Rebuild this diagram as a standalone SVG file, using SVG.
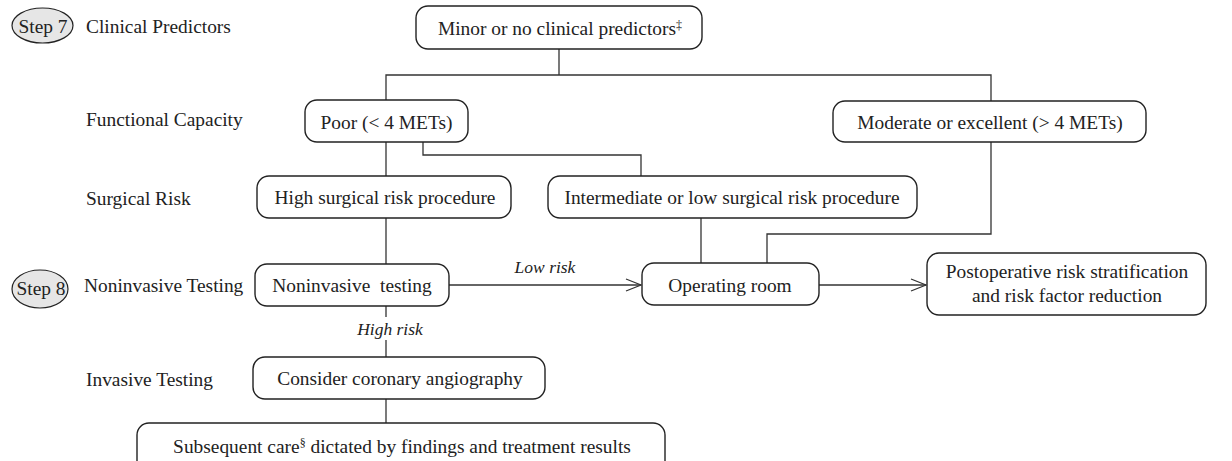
<svg xmlns="http://www.w3.org/2000/svg" width="1232" height="461" viewBox="0 0 1232 461">
<style>
  .box{fill:#fff;stroke:#222;stroke-width:1.4}
  .t{font-family:"Liberation Serif","Times New Roman",serif;font-size:19.4px;fill:#222}
  .c{text-anchor:middle}
  .i{font-style:italic;font-size:17.5px}
  .ln{fill:none;stroke:#333;stroke-width:1.3}
  .step{fill:#e6e6e6;stroke:#222;stroke-width:1.2}
  .sup{font-size:12px}
</style>
<defs>
  <marker id="arr" viewBox="0 0 17 14" refX="16" refY="7" markerWidth="17" markerHeight="14" markerUnits="userSpaceOnUse" orient="auto">
    <path d="M1,1 L16,7 L1,13" fill="none" stroke="#333" stroke-width="1.3"/>
  </marker>
</defs>
<rect width="1232" height="461" fill="#fff"/>

<g id="labels">
  <g id="step7"><ellipse class="step" cx="42.5" cy="25.5" rx="30.5" ry="17.5"/><text class="t c" x="43" y="33">Step 7</text></g>
  <g id="step8"><ellipse class="step" cx="40" cy="289" rx="28" ry="19"/><text class="t c" x="41" y="295">Step 8</text></g>
  <text class="t" x="86" y="33">Clinical Predictors</text>
  <text class="t" x="86" y="126">Functional Capacity</text>
  <text class="t" x="86" y="205">Surgical Risk</text>
  <text class="t" x="84" y="292">Noninvasive Testing</text>
  <text class="t" x="86" y="386">Invasive Testing</text>
</g>

<g id="connectors">
  <path class="ln" d="M559,49 V75 M386,100 V75 H991 V101"/>
  <path class="ln" d="M386,142 V176"/>
  <path class="ln" d="M423,142 V155 H641 V176"/>
  <path class="ln" d="M991,142 V234 H767 V263"/>
  <path class="ln" d="M701,218 V263"/>
  <path class="ln" d="M386,218 V264"/>
  <path class="ln" d="M449,285 H641" marker-end="url(#arr)"/>
  <path class="ln" d="M819,285 H926" marker-end="url(#arr)"/>
  <path class="ln" d="M386,306 V317 M386,340 V357"/>
  <path class="ln" d="M386,399 V423"/>
  <text class="t i c" x="545" y="273">Low risk</text>
  <text class="t i c" x="390" y="335">High risk</text>
</g>

<g id="minor"><rect class="box" x="416" y="6" width="286" height="43" rx="12"/><text class="t c" x="560" y="35">Minor or no clinical predictors<tspan class="sup" dy="-6">‡</tspan></text></g>
<g id="poor"><rect class="box" x="305" y="100" width="163" height="42" rx="12"/><text class="t c" x="386.5" y="129">Poor (&lt; 4 METs)</text></g>
<g id="moderate"><rect class="box" x="833" y="101" width="313" height="41" rx="12"/><text class="t c" x="990" y="129">Moderate or excellent (&gt; 4 METs)</text></g>
<g id="high"><rect class="box" x="257" y="176" width="254" height="42" rx="12"/><text class="t c" x="385" y="204">High surgical risk procedure</text></g>
<g id="intermediate"><rect class="box" x="548" y="176" width="369" height="42" rx="12"/><text class="t c" x="732" y="204">Intermediate or low surgical risk procedure</text></g>
<g id="noninvasive"><rect class="box" x="255" y="264" width="194" height="42" rx="12"/><text class="t c" x="352" y="292" style="white-space:pre">Noninvasive  testing</text></g>
<g id="operating"><rect class="box" x="642" y="263" width="177" height="42" rx="12"/><text class="t c" x="730" y="292">Operating room</text></g>
<g id="postop"><rect class="box" x="927" y="253" width="279" height="62" rx="12"/><text class="t c" x="1067" y="278">Postoperative risk stratification</text><text class="t c" x="1067" y="302">and risk factor reduction</text></g>
<g id="consider"><rect class="box" x="253" y="357" width="292" height="42" rx="12"/><text class="t c" x="400" y="385">Consider coronary angiography</text></g>
<g id="subsequent"><rect class="box" x="137" y="423" width="528" height="50" rx="12"/><text class="t c" x="402" y="453">Subsequent care<tspan class="sup" dy="-6">§</tspan><tspan dy="6"> dictated by findings and treatment results</tspan></text></g>
</svg>
